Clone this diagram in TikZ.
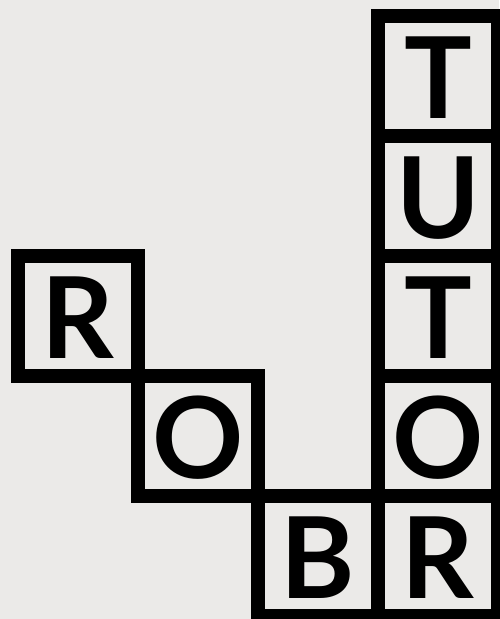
\documentclass[tikz,border=0pt]{standalone}
\usepackage{fontspec}
\setmainfont{Lato}
\definecolor{bg}{RGB}{235,234,232}
\tikzset{
  cell/.style={draw=black, fill=bg, line width=14pt, minimum size=120pt, inner sep=0pt, outer sep=0pt,
    text height=84pt, text depth=0pt, font=\fontsize{113}{113}\selectfont\bfseries}
}
\begin{document}
\begin{tikzpicture}[x=1pt,y=-1pt]
\fill[bg] (0,0) rectangle (499,619);
\useasboundingbox (0,0) rectangle (499,619);
\node[cell] (r1) at (78,316) {R};
\node[cell] (o1) at (198,436) {O};
\node[cell] (b) at (318,556) {B};
\node[cell] (t1) at (438,76) {T};
\node[cell] (u) at (438,196) {U};
\node[cell] (t2) at (438,316) {T};
\node[cell] (o2) at (438,436) {O};
\node[cell] (r2) at (438,556) {R};
\end{tikzpicture}
\end{document}
